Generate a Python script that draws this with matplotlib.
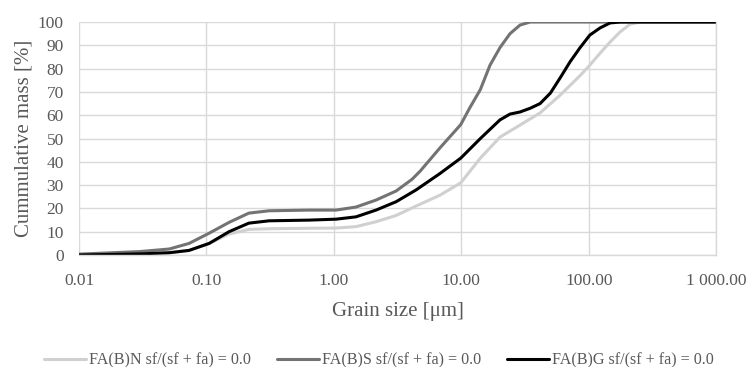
import numpy as np
import matplotlib.pyplot as plt
from matplotlib.ticker import FixedLocator, FixedFormatter

plt.rcParams['font.family'] = ['Liberation Serif', 'DejaVu Serif']

# grain size [um] and cumulative mass [%]
size_n = [0.01, 0.03, 0.051, 0.073, 0.105, 0.15, 0.215, 0.31, 0.64, 1.04, 1.49, 2.14, 3.08, 4.4,
          6.8, 9.9, 14.1, 20.1, 28.9, 41.5, 59.6, 85.5, 102.0, 123.0, 147.0, 176.0, 210.0, 253.0, 1000.0]
mass_n = [0.0, 0.5, 1.0, 2.0, 5.0, 9.0, 11.0, 11.3, 11.5, 11.6, 12.2, 14.3, 17.0, 21.0,
          25.7, 31.0, 41.6, 50.6, 55.8, 61.0, 68.6, 77.0, 81.5, 86.7, 91.4, 95.7, 99.0, 100.0, 100.0]

size_s = [0.01, 0.03, 0.051, 0.073, 0.105, 0.15, 0.215, 0.31, 0.64, 1.04, 1.49, 2.14, 3.08, 4.1,
          4.75, 6.8, 9.9, 11.6, 14.1, 16.8, 20.1, 24.1, 28.9, 34.7, 1000.0]
mass_s = [0.4, 1.5, 2.6, 5.0, 9.4, 14.0, 18.0, 19.0, 19.3, 19.3, 20.6, 23.6, 27.5, 32.5,
          36.0, 46.0, 56.0, 63.0, 71.0, 81.5, 89.0, 95.0, 98.7, 100.0, 100.0]

size_g = [0.01, 0.03, 0.051, 0.073, 0.105, 0.15, 0.215, 0.31, 0.64, 1.04, 1.49, 2.14, 3.08, 4.4,
          6.8, 9.9, 14.1, 20.1, 24.1, 28.9, 34.7, 41.5, 50.0, 59.6, 71.5, 85.5, 102.0, 123.0,
          147.0, 176.0, 1000.0]
mass_g = [0.0, 0.5, 1.0, 2.0, 5.0, 10.0, 13.7, 14.7, 15.0, 15.4, 16.4, 19.3, 22.9, 27.9,
          35.0, 41.6, 50.0, 58.0, 60.5, 61.4, 63.0, 65.0, 69.5, 76.0, 83.0, 89.0, 94.4, 97.5,
          99.6, 100.0, 100.0]

labels = ['FA(B)N sf/(sf + fa) = 0.0', 'FA(B)S sf/(sf + fa) = 0.0', 'FA(B)G sf/(sf + fa) = 0.0']
colors = ['#d0d0d0', '#737373', '#000000']

x_ticks = [0.01, 0.1, 1, 10, 100, 1000]
x_tick_labels = ['0.01', '0.10', '1.00', '10.00', '100.00', '1 000.00']
y_ticks = list(range(0, 101, 10))

text_color = '#595959'
grid_color = '#d9d9d9'

fig = plt.figure(figsize=(7.46, 3.67), dpi=100)
ax = fig.add_axes([0.106, 0.305, 0.854, 0.635])

for xs, ys, lab, c in zip([size_n, size_s, size_g], [mass_n, mass_s, mass_g], labels, colors):
    ax.plot(xs, ys, color=c, linewidth=2.2, label=lab, solid_capstyle='round', solid_joinstyle='round')

ax.set_xscale('log')
ax.set_xlim(0.01, 1000)
ax.set_ylim(0, 100)
ax.xaxis.set_major_locator(FixedLocator(x_ticks))
ax.xaxis.set_major_formatter(FixedFormatter(x_tick_labels))
ax.xaxis.set_minor_locator(FixedLocator([]))
ax.set_yticks(y_ticks)

ax.grid(True, color=grid_color, linewidth=1.0)
ax.set_axisbelow(True)
for side in ['left', 'top']:
    ax.spines[side].set_visible(False)
for side in ['right', 'bottom']:
    ax.spines[side].set_color(grid_color)
    ax.spines[side].set_linewidth(1.0)

ax.tick_params(axis='both', length=0, labelsize=12.5, colors=text_color)
ax.tick_params(axis='x', pad=13)
ax.tick_params(axis='y', pad=11)
ax.set_xlabel('Grain size [μm]', fontsize=15, color=text_color, labelpad=9)
ax.set_ylabel('Cummulative mass [%]', fontsize=15, color=text_color, labelpad=3)

fig.legend(loc='center', bbox_to_anchor=(0.508, 0.018), ncol=3, frameon=False,
           fontsize=11.6, labelcolor=text_color, handlelength=2.6, handletextpad=0.2,
           columnspacing=1.6)

fig.savefig('out.png', dpi=100)
